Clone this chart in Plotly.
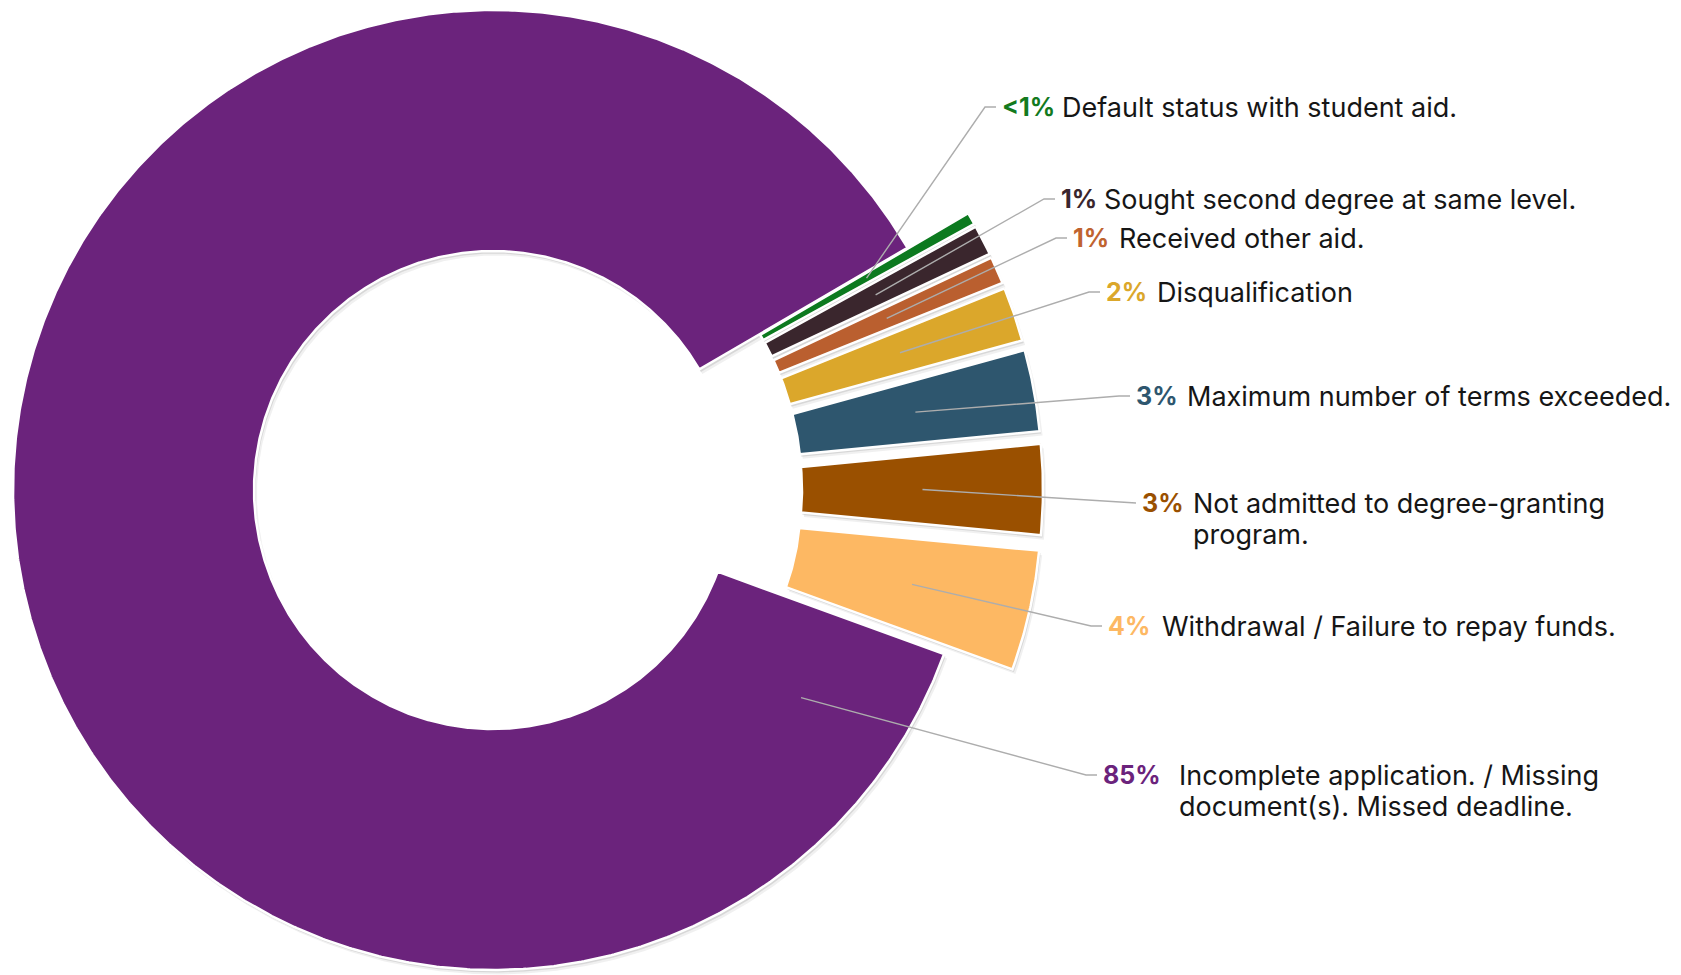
import numpy as np
import plotly.graph_objects as go

# ---------------- data ----------------
categories = [
    "Default status with student aid.",
    "Sought second degree at same level.",
    "Received other aid.",
    "Disqualification",
    "Maximum number of terms exceeded.",
    "Not admitted to degree-granting<br>program.",
    "Withdrawal / Failure to repay funds.",
    "Incomplete application. / Missing<br>document(s). Missed deadline.",
]
values = [0.4, 1.0, 0.9, 1.8, 2.7, 3.0, 4.0, 85]
pct_labels = ["<1%", "1%", "1%", "2%", "3%", "3%", "4%", "85%"]

# ---------------- styles / layout ----------------
colors = ["#0C7A1F", "#3A262D", "#BA5F2F", "#DBA72B", "#2E566E", "#9A5000", "#FDB863", "#6B237C"]
pct_colors = ["#137A1E", "#3A262D", "#C0632F", "#DBA72B", "#2E566E", "#9A5000", "#FDB863", "#6B237C"]
pulled = [True, True, True, True, True, True, True, False]

W, H = 1681, 975
CX, CY = 493, 490
R_OUT, R_IN = 480, 239
PULL = 70
START = 30.3          # degrees (math convention), slices go clockwise

label_y = [107, 199, 238, 292, 396, 503, 626, 775]
pct_x = [1000, 1059, 1071, 1104, 1134, 1140, 1106, 1101]
desc_x = [1060, 1102, 1117, 1155, 1185, 1191, 1160, 1177]
LINE_H = 31
FONT = "Inter, Poppins, sans-serif"
FS = 27
FS_PCT = 25

total = float(sum(values))
angles = []
a = START
for v in values:
    a1 = a - v / total * 360.0
    angles.append((a, a1))
    a = a1


def wedge(a0, a1, d, dx=0.0, dy=0.0):
    n = max(20, int(abs(a0 - a1) * 3))
    mid = np.radians((a0 + a1) / 2)
    ox, oy = d * np.cos(mid), d * np.sin(mid)
    t = np.radians(np.linspace(a0, a1, n))
    xo = CX + ox + R_OUT * np.cos(t) + dx
    yo = CY - oy - R_OUT * np.sin(t) + dy
    xi = CX + ox + R_IN * np.cos(t[::-1]) + dx
    yi = CY - oy - R_IN * np.sin(t[::-1]) + dy
    x = np.concatenate([xo, xi, xo[:1]])
    y = np.concatenate([yo, yi, yo[:1]])
    return x, y


fig = go.Figure()

# shadows
for (a0, a1), p in zip(angles, pulled):
    d = PULL if p else 0
    for off, alpha in [((1.5, 2.5), 0.10), ((3, 4.5), 0.06)]:
        x, y = wedge(a0, a1, d, off[0], off[1])
        fig.add_trace(go.Scatter(x=x, y=y, mode="lines", fill="toself",
                                 fillcolor=f"rgba(0,0,0,{alpha})",
                                 line=dict(width=0, color="rgba(0,0,0,0)"),
                                 hoverinfo="skip", showlegend=False))

# slices
for (a0, a1), p, c, cat, v in zip(angles, pulled, colors, categories, values):
    d = PULL if p else 0
    x, y = wedge(a0, a1, d)
    fig.add_trace(go.Scatter(x=x, y=y, mode="lines", fill="toself",
                             fillcolor=c, line=dict(width=2.5, color="white"),
                             name=cat.replace("<br>", " "), text=f"{v}",
                             hoverinfo="name", showlegend=False))

# leader lines
R_MID = (R_OUT + R_IN) / 2
for (a0, a1), p, ly, px in zip(angles, pulled, label_y, pct_x):
    if p:
        ang = np.radians((a0 + a1) / 2)
        d = PULL
        ox, oy = d * np.cos(ang), d * np.sin(ang)
        sx = CX + ox + R_MID * np.cos(ang)
        sy = CY - oy - R_MID * np.sin(ang)
    else:
        ang = np.radians(a0 - 14.0)
        sx = CX + (R_MID + 12) * np.cos(ang)
        sy = CY - (R_MID + 12) * np.sin(ang)
    fig.add_trace(go.Scatter(x=[sx, px - 15, px - 4], y=[sy, ly, ly], mode="lines",
                             line=dict(color="#ADADAD", width=1.4),
                             hoverinfo="skip", showlegend=False))

annotations = []
for cat, pl, pc, ly, px, dxx in zip(categories, pct_labels, pct_colors, label_y, pct_x, desc_x):
    pl_txt = pl.replace("<", "&lt;")
    annotations.append(dict(x=px, y=ly, xref="x", yref="y", xanchor="left", yanchor="middle",
                            text=f"<b>{pl_txt}</b>", showarrow=False,
                            font=dict(family=FONT, size=FS_PCT, color=pc)))
    for i, line in enumerate(cat.split("<br>")):
        annotations.append(dict(x=dxx, y=ly + i * LINE_H, xref="x", yref="y",
                                xanchor="left", yanchor="middle", align="left",
                                text=line, showarrow=False,
                                font=dict(family=FONT, size=FS, color="#161616")))

fig.update_layout(
    width=W, height=H, autosize=False,
    margin=dict(l=0, r=0, t=0, b=0),
    paper_bgcolor="white", plot_bgcolor="white",
    xaxis=dict(range=[0, W], visible=False, fixedrange=True),
    yaxis=dict(range=[H, 0], visible=False, fixedrange=True),
    annotations=annotations,
    showlegend=False,
)

fig.write_html("out.html", include_plotlyjs=True, config={"displayModeBar": False})
